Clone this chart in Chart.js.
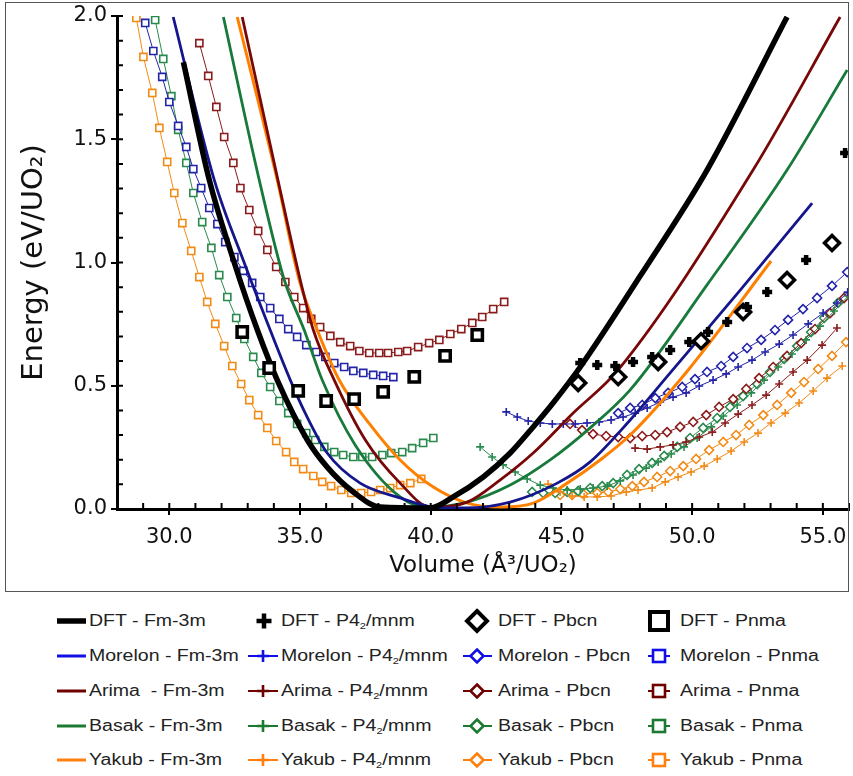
<!DOCTYPE html>
<html><head><meta charset="utf-8">
<script src="https://cdn.jsdelivr.net/npm/chart.js@4.4.1/dist/chart.umd.min.js"></script>
<style>
html,body{margin:0;padding:0;background:#fff;}
#wrap{position:relative;width:853px;height:776px;overflow:hidden;background:#fff;}
#cv{position:absolute;left:0;top:0;}
#box{position:absolute;left:5px;top:2px;width:844px;height:590px;border:1.5px solid #555;box-sizing:border-box;pointer-events:none;}
.item{position:absolute;height:30px;width:200px;}
.item svg{position:absolute;left:0;top:0;}
.item span{position:absolute;top:0;line-height:30px;white-space:pre;font-family:"Liberation Sans",Arial,sans-serif;font-size:16px;color:#222;transform:scaleX(1.22);transform-origin:left center;}
.item sub{font-size:9px;vertical-align:-3px;}
</style>
</head><body>
<div id="wrap">
<canvas id="cv" width="853" height="590" style="width:853px;height:590px"></canvas>
<div id="box"></div>
<div id="legend"></div>
</div>
<script>
// ---------- data (Volume in Å³/UO2, Energy in eV/UO2) ----------
const xTickMin = 28, xTickMax = 56, yTickMin = 0, yTickMax = 2.0;

// Fm-3m (smooth lines)
const dftFmV = [30.54,31.53,32.49,33.37,34.13,35.28,36.04,37.04,38.07,39.98,40.86,42.01,43.04,43.92,44.68,45.72,48.01,50.57,53.63];
const dftFmE = [1.813,1.335,0.998,0.726,0.523,0.280,0.170,0.069,0.008,0.004,0.049,0.130,0.227,0.333,0.430,0.576,0.945,1.375,1.996];
const morFmV = [30.15,31.72,32.87,33.86,34.63,35.20,36.04,37.30,38.83,40.10,41.32,43.04,44.84,46.10,47.63,49.16,51.84,54.59];
const morFmE = [1.996,1.335,0.998,0.726,0.523,0.389,0.227,0.105,0.045,0.008,0.004,0.028,0.105,0.191,0.361,0.552,0.888,1.241];
const ariFmV = [32.79,34.24,35.01,35.51,36.31,37.50,38.83,39.98,41.40,42.66,43.92,45.45,47.17,52.33,55.66];
const ariFmE = [1.996,1.294,0.929,0.726,0.523,0.280,0.105,0.008,0.028,0.118,0.227,0.389,0.564,1.375,1.996];
const basFmV = [32.07,33.44,34.40,35.16,35.85,37.11,38.83,39.87,41.40,43.04,44.57,46.10,47.63,50.57,53.63,55.93];
const basFmE = [1.996,1.335,0.929,0.726,0.523,0.260,0.049,0.008,0.028,0.097,0.199,0.329,0.483,0.909,1.375,1.781];
const yakFmV = [32.60,34.13,34.97,35.66,36.50,37.69,38.83,40.10,41.40,42.66,43.92,45.22,46.48,47.63,49.85,53.02];
const yakFmE = [1.996,1.335,0.929,0.726,0.523,0.341,0.199,0.089,0.024,0.008,0.024,0.105,0.199,0.300,0.564,1.006];

// P4_2/mnm (plus markers)
const dftP4V = [45.72,46.37,47.06,47.74,48.47,49.16,49.89,50.61,51.34,52.10,52.87,54.36,55.85];
const dftP4E = [0.592,0.584,0.580,0.596,0.617,0.645,0.677,0.718,0.759,0.819,0.880,1.010,1.444];
const morP4V = [42.89,43.31,43.73,44.19,44.65,45.07,45.53,45.98,46.44,46.90,47.36,47.82,48.28,48.78,49.27,49.77,50.27,50.80,51.30,51.76,52.29,52.79,53.33,53.86,54.44,55.01,55.54,55.95];
const morP4E = [0.394,0.373,0.357,0.349,0.345,0.345,0.345,0.349,0.353,0.361,0.373,0.389,0.410,0.434,0.454,0.471,0.499,0.523,0.548,0.576,0.604,0.637,0.669,0.706,0.751,0.795,0.836,0.880];
const ariP4V = [47.82,48.28,48.78,49.27,49.77,50.27,50.77,51.26,51.76,52.29,52.83,53.33,53.86,54.40,54.97,55.54];
const ariP4E = [0.247,0.243,0.252,0.260,0.272,0.292,0.312,0.349,0.385,0.422,0.462,0.507,0.556,0.604,0.665,0.734];
const basP4V = [41.89,42.35,42.77,43.23,43.69,44.19,44.68,45.22,45.72,46.21,46.75,47.25,47.74,48.24,48.70,49.20,49.69,50.19,50.73,51.19,51.72,52.26,52.75,53.29,53.82,54.36,54.89,55.43,55.97];
const basP4E = [0.252,0.211,0.179,0.150,0.122,0.097,0.085,0.077,0.081,0.085,0.093,0.114,0.138,0.166,0.191,0.223,0.252,0.288,0.333,0.377,0.422,0.471,0.523,0.576,0.629,0.686,0.742,0.803,0.864];
const yakP4V = [44.49,44.95,45.41,45.87,46.37,46.90,47.48,47.93,48.47,48.97,49.46,49.96,50.46,50.96,51.49,51.99,52.52,53.02,53.56,54.09,54.63,55.16,55.74];
const yakP4E = [0.101,0.069,0.053,0.049,0.049,0.053,0.069,0.077,0.085,0.110,0.130,0.150,0.174,0.203,0.235,0.272,0.308,0.349,0.389,0.430,0.479,0.531,0.580];

// Pbcn (diamond markers)
const dftPbV = [45.64,47.17,48.70,50.34,51.95,53.63,55.35];
const dftPbE = [0.511,0.535,0.596,0.681,0.799,0.929,1.079];
const morPbV = [47.17,47.63,48.09,48.59,49.08,49.62,50.11,50.57,51.11,51.57,52.10,52.64,53.17,53.67,54.24,54.78,55.35,55.93];
const morPbE = [0.389,0.410,0.422,0.450,0.471,0.495,0.527,0.556,0.580,0.617,0.653,0.686,0.726,0.767,0.811,0.856,0.905,0.961];
const ariPbV = [45.33,45.79,46.21,46.71,47.17,47.63,48.09,48.59,49.04,49.54,50.04,50.54,51.03,51.57,52.07,52.56,53.10,53.63,54.17,54.70,55.28,55.81];
const ariPbE = [0.345,0.320,0.304,0.296,0.292,0.288,0.296,0.300,0.312,0.333,0.353,0.381,0.414,0.446,0.487,0.531,0.576,0.621,0.673,0.730,0.795,0.856];
const basPbV = [43.88,44.30,44.76,45.22,45.64,46.10,46.56,46.98,47.51,47.97,48.47,48.93,49.43,49.92,50.42,50.96,51.45,51.95,52.49,52.98,53.52,54.02,54.55,55.05,55.58];
const basPbE = [0.069,0.065,0.065,0.069,0.073,0.085,0.093,0.105,0.138,0.162,0.187,0.215,0.252,0.288,0.329,0.369,0.414,0.458,0.507,0.556,0.609,0.661,0.718,0.775,0.836];
const yakPbV = [44.95,45.41,45.83,46.37,46.79,47.25,47.71,48.16,48.66,49.16,49.66,50.15,50.65,51.19,51.68,52.18,52.72,53.25,53.79,54.28,54.82,55.35,55.89];
const yakPbE = [0.057,0.057,0.061,0.065,0.069,0.081,0.093,0.110,0.130,0.154,0.174,0.203,0.239,0.272,0.300,0.341,0.381,0.422,0.471,0.515,0.568,0.621,0.677];

// Pnma (square markers)
const dftPnV = [32.79,33.82,34.93,36.00,37.07,38.18,39.37,40.55,41.78];
const dftPnE = [0.718,0.572,0.479,0.438,0.446,0.475,0.536,0.621,0.706];
const morPnV = [29.08,29.39,29.73,30.00,30.34,30.65,30.92,31.22,31.53,31.84,32.14,32.49,32.83,33.17,33.48,33.86,34.21,34.55,34.89,35.24,35.62,35.97,36.31,36.69,37.04,37.42,37.80,38.18,38.57];
const morPnE = [1.972,1.858,1.753,1.651,1.554,1.469,1.379,1.302,1.221,1.156,1.083,1.022,0.966,0.917,0.860,0.815,0.771,0.730,0.698,0.665,0.637,0.617,0.592,0.576,0.560,0.552,0.544,0.540,0.535];
const ariPnV = [31.15,31.49,31.80,32.10,32.45,32.72,33.06,33.40,33.75,34.09,34.44,34.78,35.12,35.43,35.77,36.16,36.54,36.92,37.27,37.65,38.03,38.37,38.76,39.10,39.52,39.94,40.33,40.75,41.17,41.59,41.97,42.39,42.81];
const ariPnE = [1.890,1.757,1.631,1.509,1.404,1.302,1.213,1.128,1.051,0.982,0.921,0.860,0.815,0.771,0.738,0.702,0.677,0.661,0.641,0.633,0.633,0.633,0.637,0.641,0.657,0.673,0.686,0.710,0.730,0.755,0.779,0.811,0.840];
const basPnV = [29.46,29.77,30.08,30.34,30.65,30.92,31.26,31.61,31.91,32.22,32.56,32.87,33.21,33.52,33.86,34.21,34.55,34.89,35.24,35.58,35.93,36.31,36.65,37.04,37.38,37.76,38.15,38.49,38.91,39.29,39.71,40.10];
const basPnE = [1.984,1.826,1.675,1.538,1.404,1.282,1.164,1.059,0.949,0.860,0.775,0.690,0.617,0.552,0.495,0.438,0.389,0.345,0.308,0.280,0.252,0.231,0.219,0.211,0.211,0.211,0.219,0.227,0.231,0.247,0.268,0.288];
const yakPnV = [28.74,29.01,29.35,29.62,29.92,30.19,30.50,30.84,31.15,31.45,31.76,32.10,32.41,32.75,33.06,33.40,33.75,34.09,34.47,34.78,35.12,35.51,35.85,36.19,36.58,36.96,37.34,37.72,38.07,38.45,38.83,39.22,39.64];
const yakPnE = [1.992,1.834,1.688,1.546,1.408,1.282,1.160,1.047,0.941,0.840,0.751,0.661,0.580,0.507,0.442,0.381,0.329,0.276,0.231,0.191,0.162,0.134,0.110,0.093,0.077,0.065,0.065,0.069,0.077,0.085,0.097,0.105,0.122];

// ---------- styles ----------
const C = {
  dft: '#000000',
  morLine: '#15158c', mor: '#2424a8',
  ariLine: '#780808', ari: '#8a1c1c',
  basLine: '#187a3a', bas: '#2a8a4e',
  yakLine: '#ff8000', yak: '#f28a16'
};
const pts = (V, E) => V.map((v, i) => ({x: v, y: E[i]}));
const lineDs = (label, V, E, color, w) => ({
  label, data: pts(V, E), showLine: true, borderColor: color, borderWidth: w,
  pointRadius: 0, cubicInterpolationMode: 'monotone', fill: false
});
const markDs = (label, V, E, color, style, r) => ({
  label, data: pts(V, E), showLine: true, borderColor: color, borderWidth: 1,
  pointStyle: style, pointRadius: r, pointBorderColor: color, pointBorderWidth: 1.6,
  pointBackgroundColor: '#ffffff', tension: 0, fill: false
});
const dftDs = (label, V, E, style, r, bw) => ({
  label, data: pts(V, E), showLine: false, pointStyle: style, pointRadius: r,
  pointBorderColor: '#000', pointBackgroundColor: '#fff', pointBorderWidth: bw
});

const datasets = [
  dftDs('DFT - P4₂/mnm', dftP4V, dftP4E, 'cross', 5, 4.5),
  dftDs('DFT - Pbcn', dftPbV, dftPbE, 'rectRot', 7.5, 3.5),
  dftDs('DFT - Pnma', dftPnV, dftPnE, 'rect', 7.3, 3.5),
  lineDs('DFT - Fm-3m', dftFmV, dftFmE, C.dft, 5.5),
  lineDs('Morelon - Fm-3m', morFmV, morFmE, C.morLine, 2.8),
  lineDs('Arima - Fm-3m', ariFmV, ariFmE, C.ariLine, 2.8),
  lineDs('Basak - Fm-3m', basFmV, basFmE, C.basLine, 2.8),
  lineDs('Yakub - Fm-3m', yakFmV, yakFmE, C.yakLine, 3),
  markDs('Morelon - P4₂/mnm', morP4V, morP4E, C.mor, 'cross', 4),
  markDs('Arima - P4₂/mnm', ariP4V, ariP4E, C.ari, 'cross', 4),
  markDs('Basak - P4₂/mnm', basP4V, basP4E, C.bas, 'cross', 4),
  markDs('Yakub - P4₂/mnm', yakP4V, yakP4E, C.yak, 'cross', 4),
  markDs('Morelon - Pbcn', morPbV, morPbE, C.mor, 'rectRot', 4.5),
  markDs('Arima - Pbcn', ariPbV, ariPbE, C.ari, 'rectRot', 4.5),
  markDs('Basak - Pbcn', basPbV, basPbE, C.bas, 'rectRot', 4.5),
  markDs('Yakub - Pbcn', yakPbV, yakPbE, C.yak, 'rectRot', 4.5),
  markDs('Morelon - Pnma', morPnV, morPnE, C.mor, 'rect', 5),
  markDs('Arima - Pnma', ariPnV, ariPnE, C.ari, 'rect', 5),
  markDs('Basak - Pnma', basPnV, basPnE, C.bas, 'rect', 5),
  markDs('Yakub - Pnma', yakPnV, yakPnE, C.yak, 'rect', 5)
];

const isMajorX = v => Math.round(v) % 5 === 0;
const isMajorY = v => Math.round(v * 10) % 5 === 0;

// short ticks on the inner side of both axes, placed with the library's scales
const innerTicks = {
  id: 'innerTicks',
  afterDraw(chart) {
    const {ctx, chartArea: a, scales: {x, y}} = chart;
    ctx.save();
    ctx.strokeStyle = '#000';
    ctx.lineWidth = 2;
    ctx.beginPath();
    x.ticks.forEach(t => {
      const p = x.getPixelForValue(t.value);
      ctx.moveTo(p, a.bottom); ctx.lineTo(p, a.bottom - 6);
    });
    y.ticks.forEach(t => {
      const p = y.getPixelForValue(t.value);
      ctx.moveTo(a.left, p); ctx.lineTo(a.left + 6, p);
    });
    ctx.stroke();
    ctx.restore();
  }
};

Chart.defaults.font.family = '"DejaVu Sans", sans-serif';
Chart.defaults.color = '#111';

new Chart(document.getElementById('cv'), {
  type: 'scatter',
  data: {datasets},
  plugins: [innerTicks],
  options: {
    responsive: false, animation: false, devicePixelRatio: 1,
    layout: {autoPadding: false, padding: {left: 0, top: 16, right: 4, bottom: 6}},
    plugins: {legend: {display: false}, tooltip: {enabled: false}},
    scales: {
      x: {
        type: 'linear', min: xTickMin, max: xTickMax,
        ticks: {stepSize: 1, autoSkip: false, maxRotation: 0, padding: 10,
          font: {size: 21}, color: '#111',
          callback: v => (isMajorX(v) ? v.toFixed(1) : '')},
        grid: {drawOnChartArea: false, drawTicks: true, tickLength: 6, lineWidth: 2,
          tickColor: c => (c.tick && isMajorX(c.tick.value) ? '#000' : 'rgba(0,0,0,0)')},
        border: {display: true, color: '#000', width: 3},
        title: {display: true, text: 'Volume (Å³/UO₂)', font: {size: 23}, color: '#111', padding: {top: 0, bottom: 4}},
        afterFit: s => { s.height = 75; s.paddingLeft = 0; s.paddingRight = 0; }
      },
      y: {
        type: 'linear', min: yTickMin, max: yTickMax,
        ticks: {stepSize: 0.1, autoSkip: false, padding: 4, font: {size: 21}, color: '#111',
          callback: v => (isMajorY(v) ? v.toFixed(1) : '')},
        grid: {drawOnChartArea: false, drawTicks: true, tickLength: 6, lineWidth: 2,
          tickColor: c => (c.tick && isMajorY(c.tick.value) ? '#000' : 'rgba(0,0,0,0)')},
        border: {display: true, color: '#000', width: 3},
        title: {display: true, text: 'Energy (eV/UO₂)', font: {size: 29}, color: '#111', padding: {top: 17, bottom: 0}},
        afterFit: s => { s.width = 117; s.paddingTop = 0; s.paddingBottom = 0; }
      }
    }
  }
});

// ---------- HTML legend (4 columns x 5 rows) ----------
const legendRows = ['DFT', 'Morelon', 'Arima', 'Basak', 'Yakub'];
const legendCols = ['Fm-3m', 'P4<sub>2</sub>/mnm', 'Pbcn', 'Pnma'];
const legendColors = ['#000000', '#1010e6', '#6e0000', '#1c7a30', '#ff7f0f'];
const colPos = [{m: 51, t: 89}, {m: 244, t: 281}, {m: 457, t: 498}, {m: 639, t: 680}];
const rowY = [621, 655.5, 690.5, 725.5, 760];

function markerSvg(col, c, isDft) {
  let s = '';
  if (col === 0) {
    s = `<line x1="6" y1="15" x2="35" y2="15" stroke="${c}" stroke-width="${isDft ? 5.5 : 3}"/>`;
  } else if (col === 1) {
    if (isDft) s = `<path d="M20 7.5V22.5M12.5 15H27.5" stroke="${c}" stroke-width="4.5"/>`;
    else s = `<line x1="4" y1="15" x2="34" y2="15" stroke="${c}" stroke-width="2"/><path d="M19 9V21M13 15H25" stroke="${c}" stroke-width="2.6"/>`;
  } else if (col === 2) {
    if (isDft) s = `<polygon points="20,5 30,15 20,25 10,15" fill="#fff" stroke="${c}" stroke-width="4"/>`;
    else s = `<line x1="6" y1="15" x2="35" y2="15" stroke="${c}" stroke-width="2"/><polygon points="20,8.5 26.5,15 20,21.5 13.5,15" fill="#fff" stroke="${c}" stroke-width="2.6"/>`;
  } else {
    if (isDft) s = `<rect x="11" y="6" width="18" height="18" fill="#fff" stroke="${c}" stroke-width="4"/>`;
    else s = `<line x1="9" y1="15" x2="31" y2="15" stroke="${c}" stroke-width="2"/><rect x="14" y="9" width="12" height="12" fill="#fff" stroke="${c}" stroke-width="2.6"/>`;
  }
  return `<svg width="40" height="30" viewBox="0 0 40 30">${s}</svg>`;
}
const lg = document.getElementById('legend');
legendRows.forEach((r, ri) => {
  legendCols.forEach((cname, ci) => {
    const name = (ri === 2 && ci === 0) ? 'Arima ' : r;
    const d = document.createElement('div');
    d.className = 'item';
    d.style.left = colPos[ci].m + 'px';
    d.style.top = (rowY[ri] - 15) + 'px';
    d.innerHTML = markerSvg(ci, legendColors[ri], ri === 0) +
      `<span style="left:${colPos[ci].t - colPos[ci].m}px">${name} - ${cname}</span>`;
    lg.appendChild(d);
  });
});
</script>
</body></html>
